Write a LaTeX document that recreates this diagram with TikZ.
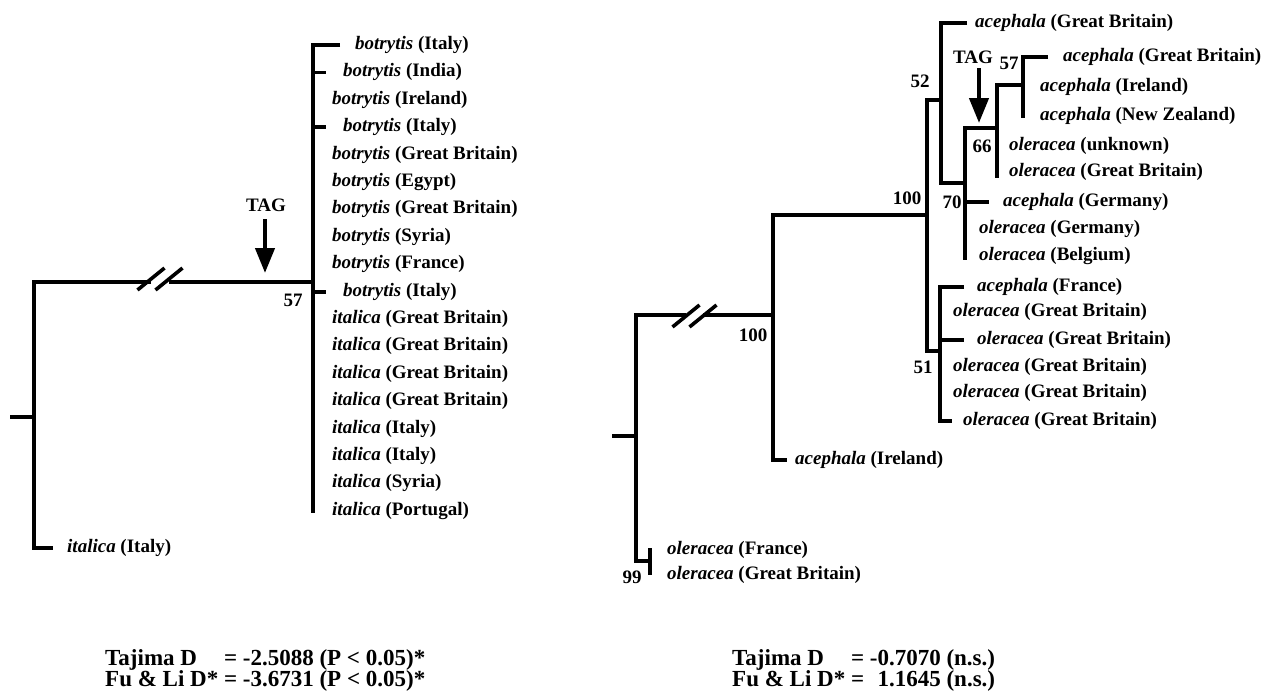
\documentclass[tikz,border=0pt]{standalone}
\usepackage{fontspec}
\setmainfont{Liberation Serif}
\usetikzlibrary{arrows.meta}
\begin{document}
\begin{tikzpicture}[x=1pt,y=-1pt,
  br/.style={line width=3.8pt, line join=miter, line cap=butt},
  brk/.style={line width=3.6pt, line cap=butt},
  lab/.style={anchor=west, inner sep=0pt, font=\fontsize{19}{22}\selectfont\bfseries},
  num/.style={inner sep=0pt, font=\fontsize{19}{22}\selectfont\bfseries},
  tagarrow/.style={line width=4.3pt, -{Triangle[width=19pt,length=25pt]}},
  stat/.style={anchor=base west, inner sep=0pt, font=\fontsize{23}{19.5}\selectfont\bfseries}]
\useasboundingbox (0,0) rectangle (1267,691);

% ================= LEFT TREE =================
\draw[br] (10,417) -- (34,417);
\draw[br] (151,282) -- (34,282) -- (34,548) -- (53,548);
\draw[br] (169,282) -- (313,282);
\draw[brk] (137.5,290) -- (164.5,268);
\draw[brk] (155.5,290) -- (182.5,268);
\draw[br] (340,45) -- (313,45) -- (313,513);
\foreach \i in {1,3,9} \draw[br] (313,{45+27.4*\i}) -- (326,{45+27.4*\i});

\foreach \i/\x/\sp/\pl in {
  0/355/botrytis/Italy, 1/343/botrytis/India, 2/332/botrytis/Ireland,
  3/343/botrytis/Italy, 4/332/botrytis/Great Britain, 5/332/botrytis/Egypt,
  6/332/botrytis/Great Britain, 7/332/botrytis/Syria, 8/332/botrytis/France,
  9/343/botrytis/Italy, 10/332/italica/Great Britain, 11/332/italica/Great Britain,
  12/332/italica/Great Britain, 13/332/italica/Great Britain, 14/332/italica/Italy,
  15/332/italica/Italy, 16/332/italica/Syria, 17/332/italica/Portugal}
  \node[lab] (L\i) at (\x,{45+27.4*\i}) {\textit{\sp} (\pl)};
\node[lab] (Lout) at (67,548) {\textit{italica} (Italy)};

\node[num] (tagL) at (266,205) {TAG};
\coordinate (tagLs) at (265,219);
\coordinate (tagLe) at (265,273);
\draw[tagarrow] (tagLs) -- (tagLe);
\node[num] (n57L) at (293,300) {57};

% ================= RIGHT TREE =================
\draw[br] (612,436) -- (636,436);
\draw[br] (686,315) -- (636,315) -- (636,561) -- (650,561);
\draw[br] (650,548) -- (650,575);
\draw[br] (703,315) -- (773,315);
\draw[brk] (672.5,327) -- (699.5,305);
\draw[brk] (689.5,327) -- (716.5,305);
\draw[br] (927,215) -- (773,215) -- (773,460) -- (787,460);
\draw[br] (941,100) -- (927,100) -- (927,351) -- (940,351);
\draw[br] (967,23) -- (941,23) -- (941,183) -- (965,183);
\draw[br] (997,128) -- (965,128) -- (965,260);
\draw[br] (965,202) -- (989,202);
\draw[br] (1023,85) -- (997,85) -- (997,178);
\draw[br] (1048,57) -- (1023,57) -- (1023,118);
\draw[br] (964,287) -- (940,287) -- (940,421) -- (952,421);
\draw[br] (940,340) -- (964,340);

\foreach \i/\x/\y/\sp/\pl in {
  1/975/23/acephala/Great Britain, 2/1063/57/acephala/Great Britain,
  3/1040/87/acephala/Ireland, 4/1040/116/acephala/New Zealand,
  5/1009/146/oleracea/unknown, 6/1009/172/oleracea/Great Britain,
  7/1003/202/acephala/Germany, 8/979/229/oleracea/Germany,
  9/979/256/oleracea/Belgium, 10/977/287/acephala/France,
  11/953/312/oleracea/Great Britain, 12/977/340/oleracea/Great Britain,
  13/953/367/oleracea/Great Britain, 14/953/393/oleracea/Great Britain,
  15/963/421/oleracea/Great Britain, 16/795/460/acephala/Ireland,
  17/667/550/oleracea/France, 18/667/575/oleracea/Great Britain}
  \node[lab] (R\i) at (\x,\y) {\textit{\sp} (\pl)};

\node[num] (tagR) at (973,57) {TAG};
\coordinate (tagRs) at (979,68);
\coordinate (tagRe) at (979,123);
\draw[tagarrow] (tagRs) -- (tagRe);

\node[num] (n52) at (920,81) {52};
\node[num] (n57R) at (1009,63) {57};
\node[num] (n66) at (982,146) {66};
\node[num] (n70) at (952,202) {70};
\node[num] (n100a) at (907,198) {100};
\node[num] (n100b) at (753,335) {100};
\node[num] (n51) at (923,367) {51};
\node[num] (n99) at (632,577) {99};

% ================= STATISTICS =================
\node[stat] (statL) at (105,665) {\begin{tabular}[t]{@{}l@{\ }l@{}}
Tajima D & = -2.5088 (P < 0.05)*\\
Fu \& Li D* & = -3.6731 (P < 0.05)*\end{tabular}};
\node[stat] (statR) at (732,665) {\begin{tabular}[t]{@{}l@{\ }l@{}}
Tajima D & = -0.7070 (n.s.)\\
Fu \& Li D* & = \phantom{-}1.1645 (n.s.)\end{tabular}};
\end{tikzpicture}
\end{document}
